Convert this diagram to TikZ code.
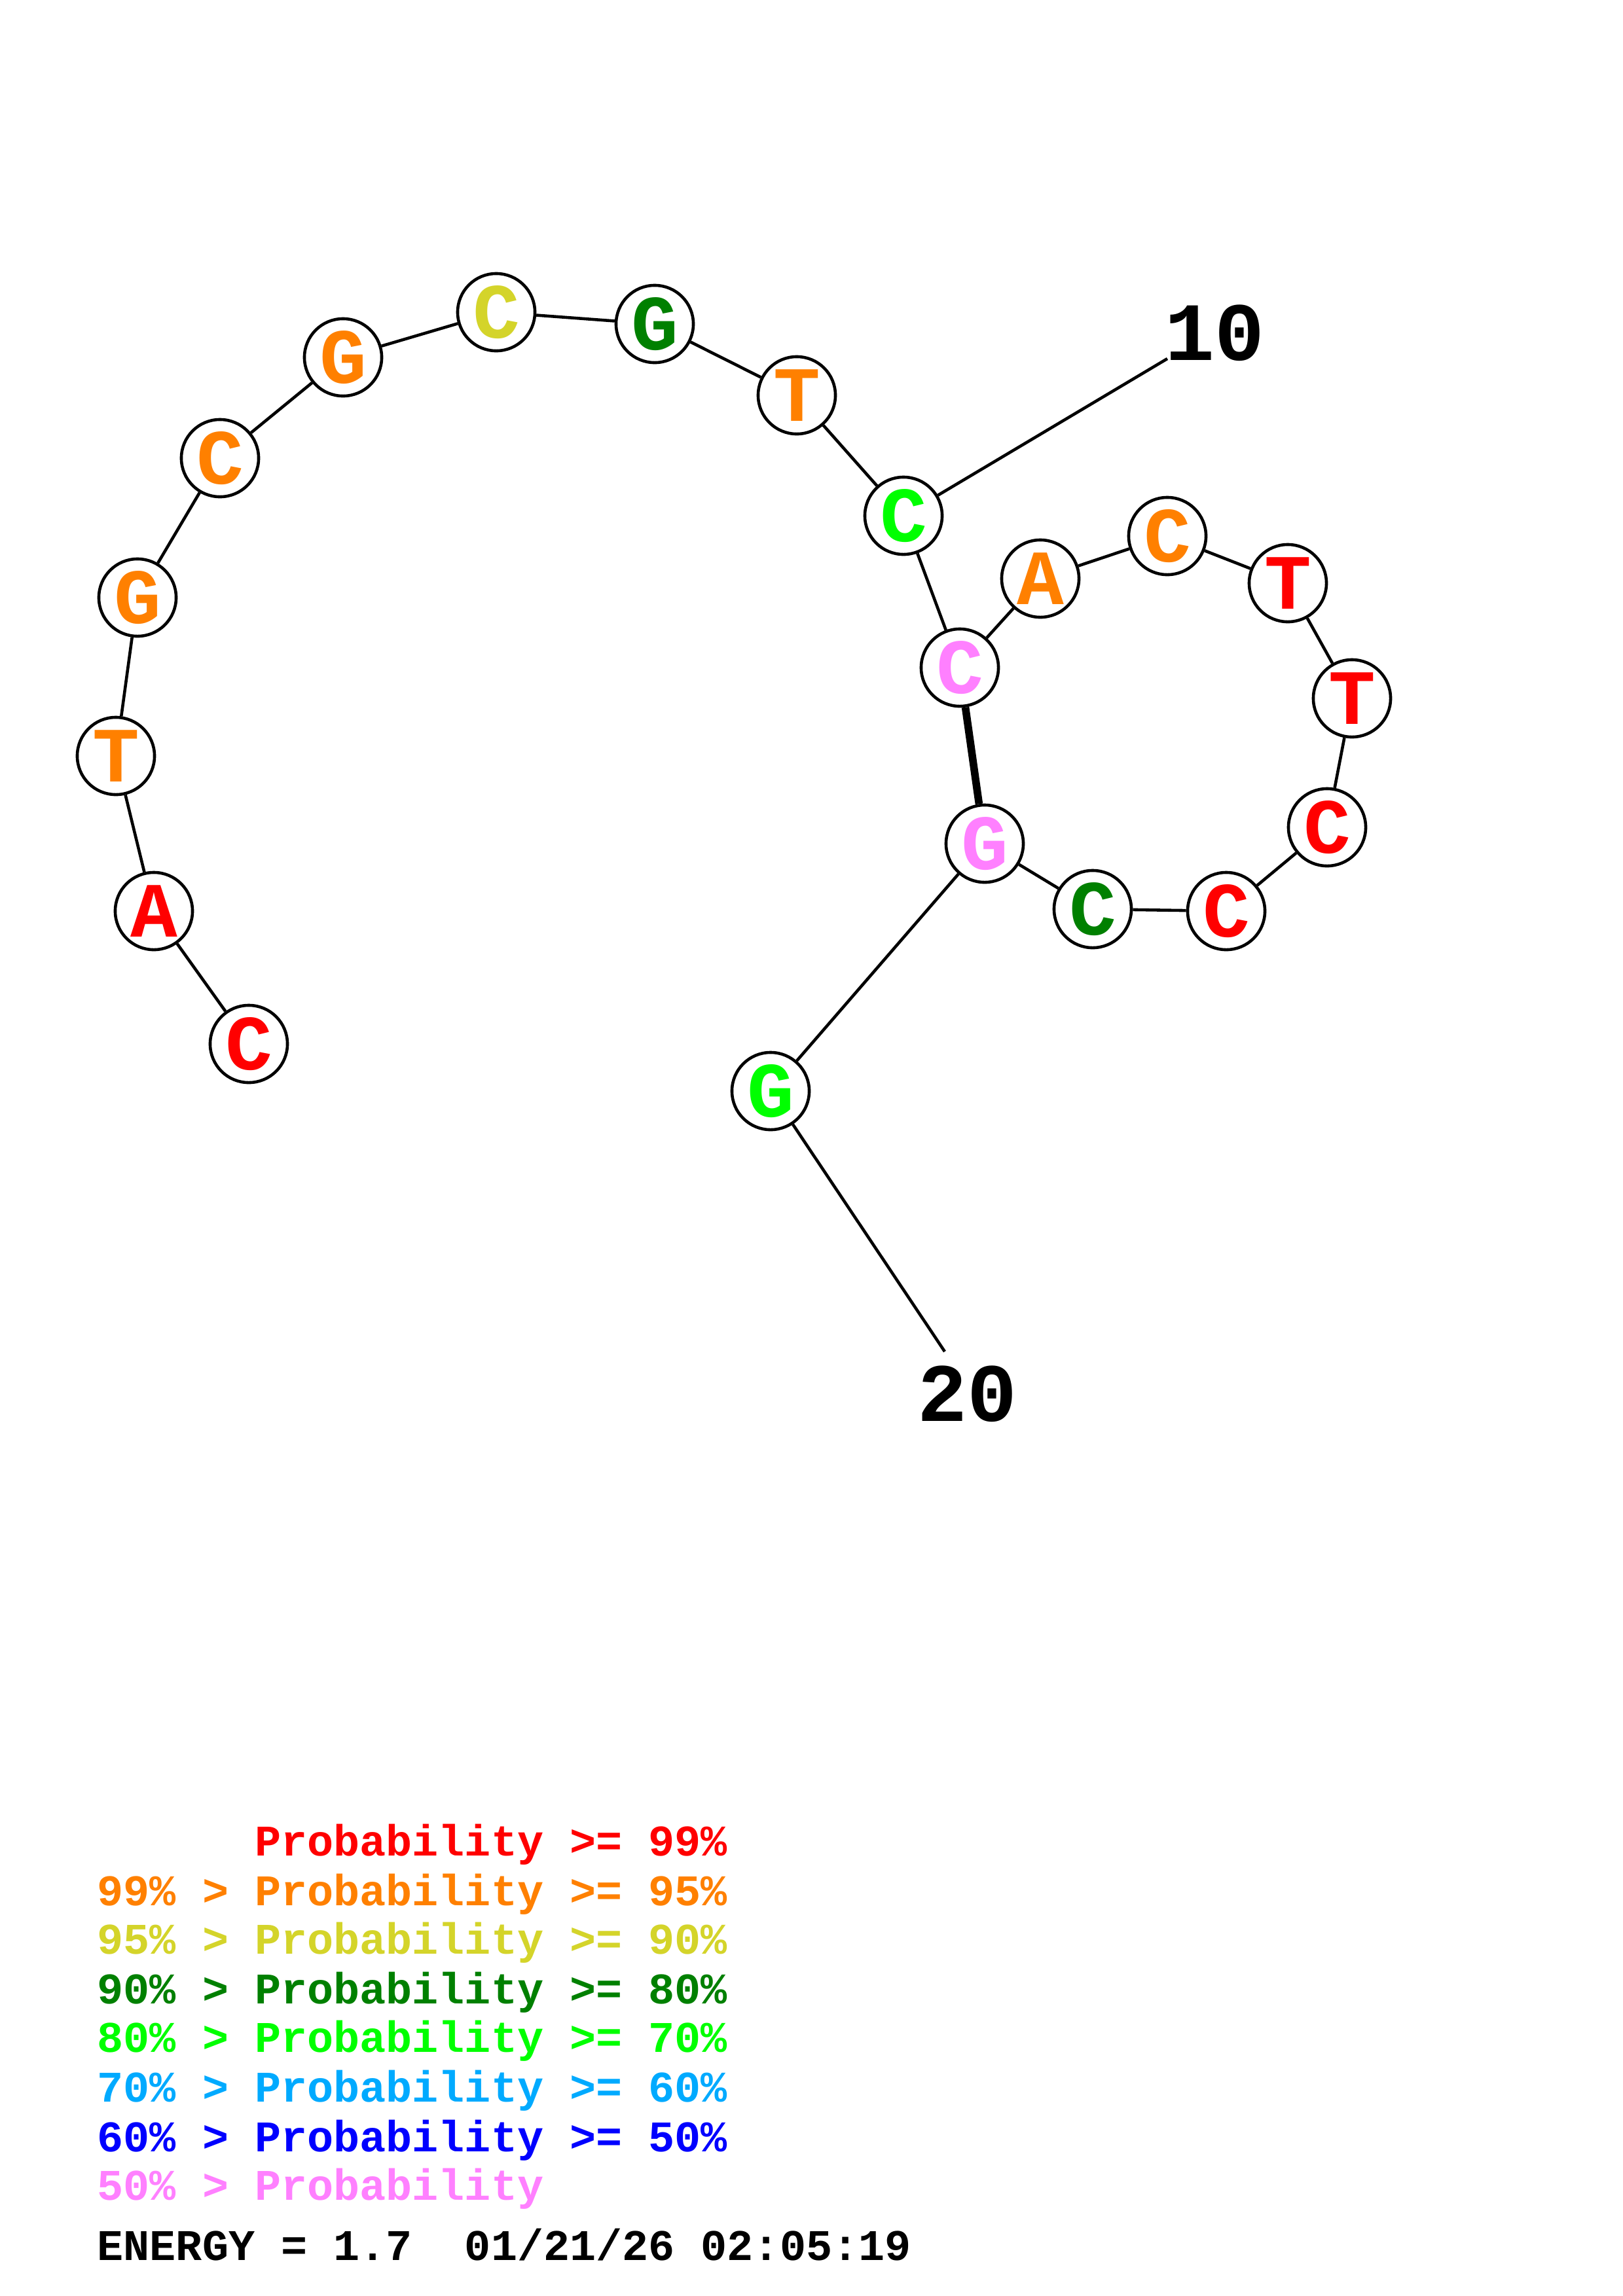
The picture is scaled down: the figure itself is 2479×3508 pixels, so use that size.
\documentclass[tikz,border=0pt]{standalone}
\usepackage{fontspec}
\setmonofont{Liberation Mono}
\definecolor{pr}{RGB}{255,0,0}
\definecolor{po}{RGB}{255,128,0}
\definecolor{py}{RGB}{212,212,42}
\definecolor{pdg}{RGB}{0,128,0}
\definecolor{pg}{RGB}{0,255,0}
\definecolor{plb}{RGB}{0,170,255}
\definecolor{pb}{RGB}{0,0,255}
\definecolor{pp}{RGB}{255,128,255}
\tikzset{
  base/.style={circle,draw=black,line width=1.3pt,fill=white,minimum size=1.18cm,inner sep=0pt,
    font=\ttfamily\bfseries\fontsize{34}{34}\selectfont},
  bond/.style={line width=1.3pt},
  pairbond/.style={line width=3.3pt},
  numlbl/.style={font=\ttfamily\bfseries\fontsize{36}{36}\selectfont,inner sep=0pt},
  legend/.style={anchor=base west,inner sep=0pt,font=\ttfamily\bfseries\fontsize{19}{19}\selectfont}
}
\begin{document}
\begin{tikzpicture}[x=0.01cm,y=-0.01cm]
\useasboundingbox[fill=white] (0,0) rectangle (2479,3508);
\coordinate (e10) at (1783,548);
\coordinate (e20) at (1443,2065);
\node[base,text=pr]  (n1)  at (380,1595) {C};
\node[base,text=pr]  (n2)  at (235,1392) {A};
\node[base,text=po]  (n3)  at (177,1155) {T};
\node[base,text=po]  (n4)  at (210,913)  {G};
\node[base,text=po]  (n5)  at (336,700)  {C};
\node[base,text=po]  (n6)  at (524,546)  {G};
\node[base,text=py]  (n7)  at (758,477)  {C};
\node[base,text=pdg] (n8)  at (1000,495) {G};
\node[base,text=po]  (n9)  at (1217,604) {T};
\node[base,text=pg]  (n10) at (1380,788) {C};
\node[base,text=pp]  (n11) at (1466,1020) {C};
\node[base,text=po]  (n12) at (1589,884) {A};
\node[base,text=po]  (n13) at (1783,819) {C};
\node[base,text=pr]  (n14) at (1967,891) {T};
\node[base,text=pr]  (n15) at (2065,1067) {T};
\node[base,text=pr]  (n16) at (2027,1264) {C};
\node[base,text=pr]  (n17) at (1873,1392) {C};
\node[base,text=pdg] (n18) at (1669,1389) {C};
\node[base,text=pp]  (n19) at (1504,1289) {G};
\node[base,text=pg]  (n20) at (1177,1667) {G};
\draw[bond] (n1)--(n2) (n2)--(n3) (n3)--(n4) (n4)--(n5) (n5)--(n6) (n6)--(n7) (n7)--(n8) (n8)--(n9) (n9)--(n10)
  (n10)--(n11) (n11)--(n12) (n12)--(n13) (n13)--(n14) (n14)--(n15) (n15)--(n16) (n16)--(n17) (n17)--(n18)
  (n18)--(n19) (n19)--(n20);
\draw[pairbond] (n11)--(n19);
\draw[bond] (n10)--(e10);
\draw[bond] (n20)--(e20);
\node[numlbl] (l10) at (1855,509) {10};
\node[numlbl] (l20) at (1477,2130) {20};
% legend
\node[legend,text=pr]  (g1) at (148,2835) {\phantom{99\% > }Probability >= 99\%};
\node[legend,text=po]  (g2) at (148,2911) {99\% > Probability >= 95\%};
\node[legend,text=py]  (g3) at (148,2985) {95\% > Probability >= 90\%};
\node[legend,text=pdg] (g4) at (148,3061) {90\% > Probability >= 80\%};
\node[legend,text=pg]  (g5) at (148,3135) {80\% > Probability >= 70\%};
\node[legend,text=plb] (g6) at (148,3211) {70\% > Probability >= 60\%};
\node[legend,text=pb]  (g7) at (148,3287) {60\% > Probability >= 50\%};
\node[legend,text=pp]  (g8) at (148,3361) {50\% > Probability};
\node[legend,text=black] (g9) at (148,3453) {ENERGY = 1.7\ \ 01/21/26 02:05:19};
\end{tikzpicture}
\end{document}
